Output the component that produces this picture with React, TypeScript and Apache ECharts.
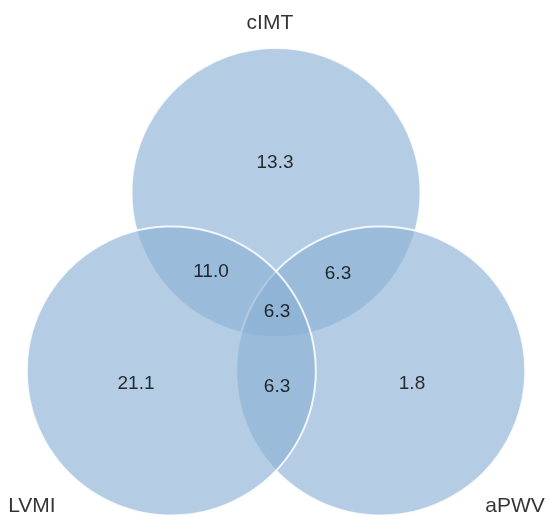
import React, { useEffect, useRef } from "react";
import * as echarts from "echarts";

// ---- data ----
const SETS = ["cIMT", "LVMI", "aPWV"];
const REGIONS = ["cIMT", "cIMT∩LVMI", "cIMT∩aPWV", "cIMT∩LVMI∩aPWV", "LVMI", "LVMI∩aPWV", "aPWV"];
const REGION_VALUES = [13.3, 11.0, 6.3, 6.3, 21.1, 6.3, 1.8];

// ---- layout (units of circle radius) ----
const RADIUS = 1;
const CIRCLE_CENTERS: Record<string, [number, number]> = {
  cIMT: [0, 1.235],
  LVMI: [-0.7246, 0],
  aPWV: [0.7246, 0],
};
const DRAW_ORDER = ["cIMT", "aPWV", "LVMI"];
const REGION_LABEL_POS: [number, number][] = [
  [-0.007, 1.45],
  [-0.45, 0.692],
  [0.429, 0.685],
  [0.007, 0.422],
  [-0.969, -0.083],
  [0.007, -0.097],
  [0.941, -0.083],
];
const SET_LABEL_POS: [number, number][] = [
  [-0.042, 2.415],
  [-1.689, -0.925],
  [1.654, -0.925],
];
const X_RANGE: [number, number] = [-1.91, 1.896];
const Y_RANGE: [number, number] = [-1.024, 2.567];

const FONT = "'Liberation Sans', Arial, Helvetica, sans-serif";
const FILL = "rgba(138,176,212,0.63)";

export default function App() {
  const ref = useRef<HTMLDivElement>(null);
  useEffect(() => {
    if (!ref.current) return;
    const chart = echarts.init(ref.current, undefined, { renderer: "svg" });
    chart.setOption({
      animation: false,
      grid: { left: 0, right: 0, top: 0, bottom: 0 },
      xAxis: { type: "value", min: X_RANGE[0], max: X_RANGE[1], show: false },
      yAxis: { type: "value", min: Y_RANGE[0], max: Y_RANGE[1], show: false },
      series: [
        {
          type: "custom",
          encode: { x: 0, y: 1 },
          data: DRAW_ORDER.map((s) => ({
            name: s,
            value: [CIRCLE_CENTERS[s][0], CIRCLE_CENTERS[s][1], RADIUS],
          })),
          renderItem: (params: any, api: any) => {
            const c = api.coord([api.value(0), api.value(1)]);
            const r = api.size([api.value(2), 0])[0];
            return {
              type: "circle",
              shape: { cx: c[0], cy: c[1], r },
              style: { fill: FILL, stroke: "rgba(255,255,255,0.85)", lineWidth: 2 },
            };
          },
          silent: true,
          z: 1,
        },
        {
          type: "scatter",
          symbolSize: 0,
          z: 3,
          data: REGION_VALUES.map((v, i) => ({
            name: REGIONS[i],
            value: [REGION_LABEL_POS[i][0], REGION_LABEL_POS[i][1], v],
          })),
          label: {
            show: true,
            position: "inside",
            formatter: (p: any) => Number(p.value[2]).toFixed(1),
            color: "#000",
            fontSize: 19,
            fontFamily: FONT,
          },
        },
        {
          type: "scatter",
          symbolSize: 0,
          z: 3,
          data: SETS.map((s, i) => ({
            name: s,
            value: [SET_LABEL_POS[i][0], SET_LABEL_POS[i][1]],
          })),
          label: {
            show: true,
            position: "inside",
            formatter: "{b}",
            color: "#000",
            fontSize: 21,
            fontFamily: FONT,
          },
        },
      ],
    });
    return () => chart.dispose();
  }, []);
  return (
    <div
      ref={ref}
      style={{ position: "fixed", left: 0, top: 0, width: 550, height: 519 }}
    />
  );
}
